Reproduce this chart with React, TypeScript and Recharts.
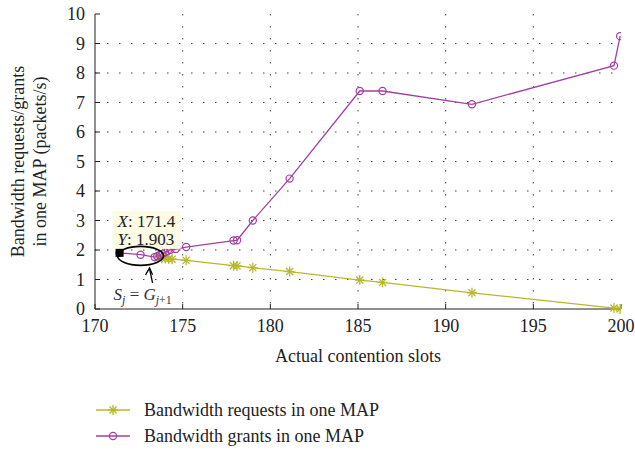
import React from 'react';
import {
   LineChart,
   Line,
   XAxis,
   YAxis,
   CartesianGrid,
   Label,
   ReferenceDot,
} from 'recharts';

// Bandwidth requests in one MAP
const requestSlots = [173.6, 173.8, 174.0, 174.2, 174.4, 175.2, 177.9, 178.1, 179.0, 181.1, 185.1, 186.4, 191.5, 199.6, 199.95];
const requestValues = [1.73, 1.72, 1.71, 1.7, 1.69, 1.65, 1.47, 1.46, 1.4, 1.27, 0.98, 0.9, 0.55, 0.03, 0.0];

// Bandwidth grants in one MAP
const grantSlots = [171.4, 172.6, 173.4, 173.55, 173.7, 173.85, 174.0, 174.15, 174.3, 174.6, 175.2, 177.9, 178.1, 179.0, 181.1, 185.1, 186.4, 191.5, 199.6, 199.95];
const grantValues = [1.903, 1.84, 1.76, 1.79, 1.83, 1.87, 1.92, 1.97, 2.01, 2.03, 2.1, 2.32, 2.33, 3.0, 4.42, 7.39, 7.39, 6.94, 8.25, 9.25];

const seriesNames = ['Bandwidth requests in one MAP', 'Bandwidth grants in one MAP'];

const xTicks = [170, 175, 180, 185, 190, 195, 200];
const yTicks = [0, 1, 2, 3, 4, 5, 6, 7, 8, 9, 10];

const tipX = 171.4;
const tipY = 1.903;

const requests = requestSlots.map((x, i) => ({ x, y: requestValues[i] }));
const grants = grantSlots.map((x, i) => ({ x, y: grantValues[i] }));

const FONT = '"Liberation Serif", "DejaVu Serif", serif';
const PURPLE = '#a3409f';
const OLIVE = '#b7b82e';

const Star = (props: any) => {
   const { cx, cy, key } = props;
   if (cx == null || cy == null) return null;
   const r = 5;
   const d = r * 0.707;
   return (
      <g key={key} stroke={OLIVE} strokeWidth={1.3}>
         <line x1={cx - r} y1={cy} x2={cx + r} y2={cy} />
         <line x1={cx} y1={cy - r} x2={cx} y2={cy + r} />
         <line x1={cx - d} y1={cy - d} x2={cx + d} y2={cy + d} />
         <line x1={cx - d} y1={cy + d} x2={cx + d} y2={cy - d} />
      </g>
   );
};

const Ring = (props: any) => {
   const { cx, cy, key } = props;
   if (cx == null || cy == null) return null;
   return <circle key={key} cx={cx} cy={cy} r={3.6} fill="none" stroke={PURPLE} strokeWidth={1.2} />;
};

const DataTip = (props: any) => {
   const { cx, cy } = props;
   if (cx == null || cy == null) return <g />;
   return (
      <g fontFamily={FONT}>
         <rect x={cx - 7} y={cy - 42} width={68} height={38} fill="#fbfbe6" />
         <text x={cx - 2} y={cy - 26} fontSize={17} fill="#222">
            <tspan fontStyle="italic">X</tspan>: 171.4
         </text>
         <text x={cx - 2} y={cy - 8} fontSize={17} fill="#222">
            <tspan fontStyle="italic">Y</tspan>: 1.903
         </text>
         <ellipse cx={cx + 21} cy={cy + 3} rx={23} ry={9.5} fill="none" stroke="#000" strokeWidth={1.6} />
         <line x1={cx + 33} y1={cy + 30} x2={cx + 30} y2={cy + 16} stroke="#000" strokeWidth={1.3} />
         <path d={`M ${cx + 26} ${cy + 22} L ${cx + 30} ${cy + 15} L ${cx + 33} ${cy + 22}`} fill="none" stroke="#000" strokeWidth={1.3} />
         <rect x={cx - 4} y={cy - 4} width={8} height={8} fill="#000" />
         <text x={cx - 6} y={cy + 47} fontSize={17} fill="#333">
            <tspan fontStyle="italic">S</tspan>
            <tspan fontStyle="italic" fontSize={12} dy={4}>j</tspan>
            <tspan dy={-4}> = </tspan>
            <tspan fontStyle="italic">G</tspan>
            <tspan fontStyle="italic" fontSize={12} dy={4}>j</tspan>
            <tspan fontSize={12}>+1</tspan>
         </text>
      </g>
   );
};

const YTitle = (props: any) => {
   const vb = props.viewBox || { x: 55, y: 14, width: 40, height: 295 };
   const cy = vb.y + vb.height / 2;
   const x1 = vb.x - 37;
   const x2 = vb.x - 15;
   return (
      <g fontFamily={FONT} fontSize={18} fill="#222" textAnchor="middle">
         <text x={x1} y={cy} transform={`rotate(-90 ${x1} ${cy})`} dy={6}>
            Bandwidth requests/grants
         </text>
         <text x={x2} y={cy} transform={`rotate(-90 ${x2} ${cy})`} dy={6}>
            in one MAP (packets/s)
         </text>
      </g>
   );
};

const LegendBox = () => (
   <div
      style={{
         position: 'absolute',
         left: 96,
         top: 397,
         fontFamily: FONT,
         fontSize: 18,
         color: '#222',
      }}
   >
      {seriesNames.map((name, i) => (
         <div key={name} style={{ display: 'flex', alignItems: 'center', height: 26 }}>
            <svg width={48} height={20}>
               <line x1={0} y1={10} x2={34} y2={10} stroke={i === 0 ? OLIVE : PURPLE} strokeWidth={1.5} />
               {i === 0 ? <Star cx={17} cy={10} /> : <Ring cx={17} cy={10} />}
            </svg>
            <span>{name}</span>
         </div>
      ))}
   </div>
);

export default function App() {
   return (
      <div style={{ position: 'absolute', left: 0, top: 0, width: 635, height: 453, background: '#fff' }}>
         <LineChart
            width={635}
            height={453}
            margin={{ top: 14, right: 14, left: 55, bottom: 114 }}
         >
            <CartesianGrid
               stroke="#444"
               strokeDasharray="1.5 10.5"
               horizontalValues={[1, 2, 3, 4, 5, 6, 7, 8, 9]}
               verticalValues={[175, 180, 185, 190, 195]}
            />
            <XAxis
               type="number"
               dataKey="x"
               domain={[170, 200]}
               ticks={xTicks}
               allowDataOverflow
               height={30}
               stroke="#222"
               tickSize={-5}
               tickMargin={15}
               tick={{ fontFamily: FONT, fontSize: 18, fill: '#222' }}
            >
               <Label value="Actual contention slots" position="bottom" offset={10} style={{ fontFamily: FONT, fontSize: 18, fill: '#222' }} />
            </XAxis>
            <XAxis
               xAxisId="top"
               orientation="top"
               type="number"
               domain={[170, 200]}
               ticks={xTicks}
               height={0}
               stroke="#222"
               tickSize={-5}
               tick={false}
            />
            <YAxis
               type="number"
               domain={[0, 10]}
               ticks={yTicks}
               width={40}
               stroke="#222"
               tickSize={-5}
               tickMargin={15}
               interval={0}
               tick={{ fontFamily: FONT, fontSize: 18, fill: '#222' }}
            >
               <Label content={YTitle} />
            </YAxis>
            <YAxis
               yAxisId="right"
               orientation="right"
               type="number"
               domain={[0, 10]}
               ticks={yTicks}
               width={0}
               stroke="#222"
               tickSize={-5}
               tick={false}
            />
            <Line
               data={requests}
               dataKey="y"
               name={seriesNames[0]}
               stroke={OLIVE}
               strokeWidth={1.3}
               dot={Star}
               isAnimationActive={false}
            />
            <Line
               data={grants}
               dataKey="y"
               name={seriesNames[1]}
               stroke={PURPLE}
               strokeWidth={1.3}
               dot={Ring}
               isAnimationActive={false}
            />
            <ReferenceDot x={tipX} y={tipY} shape={DataTip} ifOverflow="visible" />
         </LineChart>
         <LegendBox />
      </div>
   );
}
